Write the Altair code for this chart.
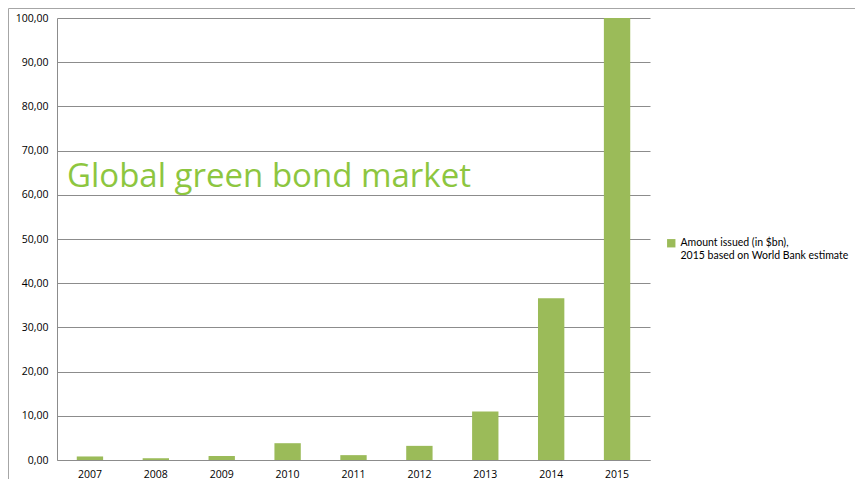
import altair as alt
import pandas as pd

years = ["2007", "2008", "2009", "2010", "2011", "2012", "2013", "2014", "2015"]
amounts = [0.8, 0.4, 0.9, 3.8, 1.1, 3.2, 11.0, 36.6, 100.0]
series_name = "Amount issued (in $bn)"
y_ticks = [0, 10, 20, 30, 40, 50, 60, 70, 80, 90, 100]

df = pd.DataFrame({"year": years, "amount": amounts, "series": series_name})

FONT = "Open Sans"
GRID = "#8c8c8c"

bars = alt.Chart(df).mark_bar(color="#9BBB59").encode(
    x=alt.X("year:N", sort=years, title=None,
            scale=alt.Scale(paddingInner=0.6, paddingOuter=0.3),
            axis=alt.Axis(labelAngle=0, ticks=False, labelPadding=9,
                          domainColor=GRID, labelFont=FONT, labelFontSize=10.5,
                          labelColor="#000000")),
    y=alt.Y("amount:Q", title=None,
            scale=alt.Scale(domain=[0, 100], nice=False),
            axis=alt.Axis(values=y_ticks, ticks=False, labelPadding=9,
                          labelExpr="replace(format(datum.value, '.2f'), '.', ',')",
                          grid=True, gridColor=GRID, domainColor=GRID,
                          labelFont=FONT, labelFontSize=10.5, labelColor="#000000")),
    color=alt.Color("series:N",
                    scale=alt.Scale(domain=[series_name], range=["#9BBB59"]),
                    legend=alt.Legend(orient="none", legendX=609, legendY=220,
                                      title=None, symbolType="square", symbolSize=70,
                                      labelFont="Lato", labelFontSize=10.5,
                                      labelColor="#000000", labelLimit=300,
                                      labelOffset=4,
                                      labelExpr="['Amount issued (in $bn),', '2015 based on World Bank estimate']")),
)

title_df = pd.DataFrame({"t": ["Global green bond market"]})
title = alt.Chart(title_df).mark_text(
    align="left", baseline="alphabetic", font=FONT, fontSize=33, color="#8DC63F"
).encode(x=alt.value(10), y=alt.value(169), text="t:N")

frame_left = alt.Chart(title_df).mark_rule(color="#a6a6a6", strokeWidth=1).encode(
    x=alt.value(-48.5), y=alt.value(-9.5), y2=alt.value(480))
frame_top = alt.Chart(title_df).mark_rule(color="#a6a6a6", strokeWidth=1).encode(
    x=alt.value(-48.5), x2=alt.value(806), y=alt.value(-9.5))

chart = alt.layer(bars, title, frame_left, frame_top).properties(
    width=593, height=442,
    padding={"left": 49, "top": 10, "right": 205, "bottom": 19},
    autosize=alt.AutoSizeParams(type="none"),
).configure_view(stroke=None).configure_axis(domainWidth=1, gridWidth=1)

chart.save("out.html", embed_options={"renderer": "svg", "actions": False})
